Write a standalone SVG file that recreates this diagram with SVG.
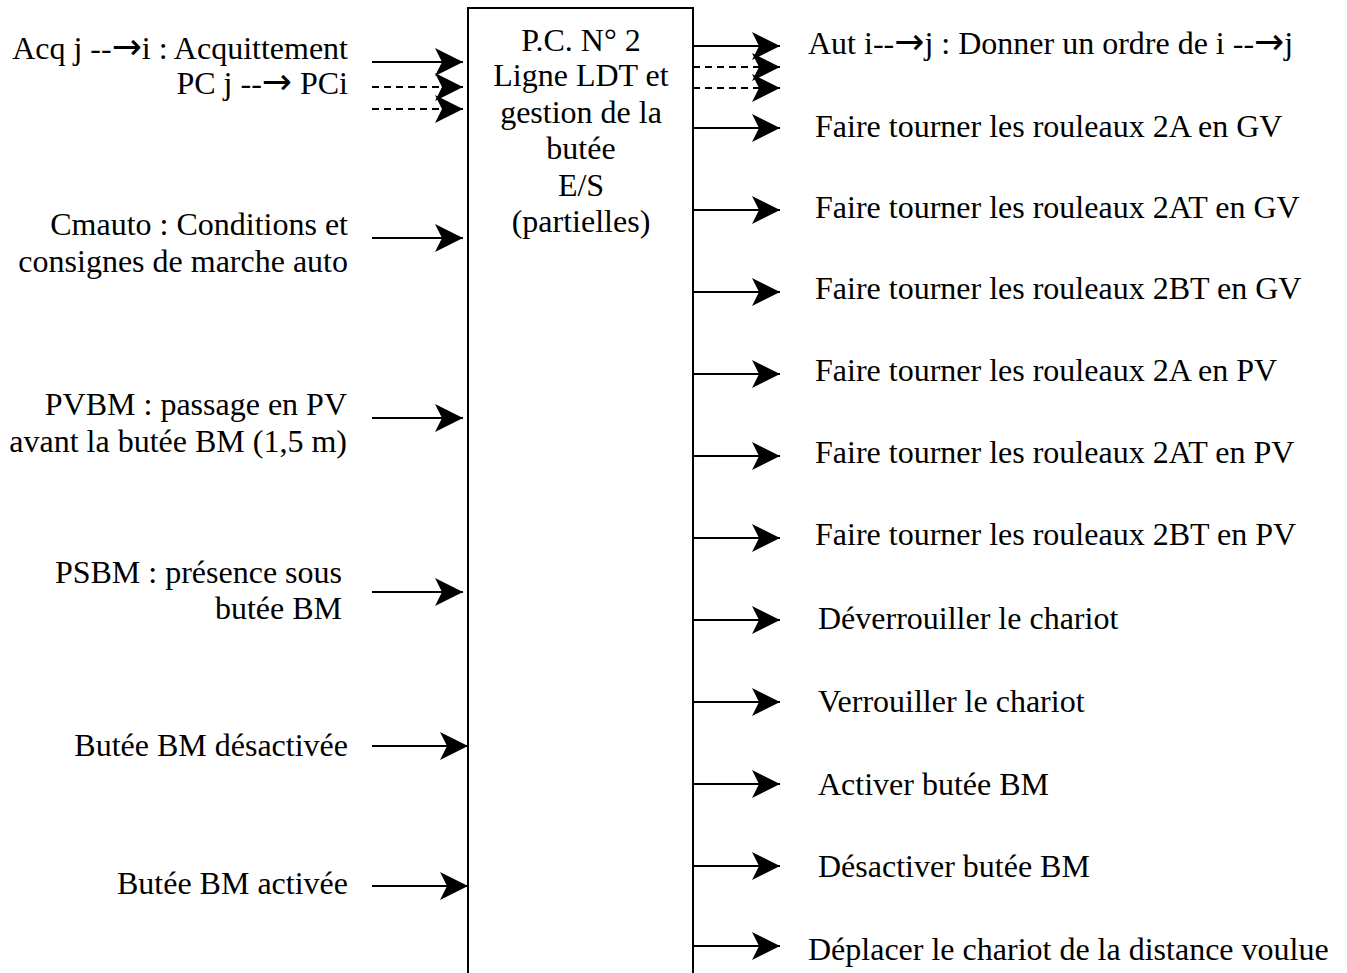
<svg xmlns="http://www.w3.org/2000/svg" width="1347" height="973" viewBox="0 0 1347 973">
  <style>
    text { font-family: "Liberation Serif", "Times New Roman", serif; font-size: 32px; fill: #000; }
    .in { text-anchor: end; }
    .mid { text-anchor: middle; }
    .sym { font-family: "DejaVu Sans", sans-serif; font-size: 36px; }
    .wire { stroke: #000; stroke-width: 2; fill: none; marker-end: url(#head); }
    .dash { stroke-dasharray: 7 5; }
    .box { stroke: #000; stroke-width: 2; fill: #fff; }
  </style>
  <defs>
    <marker id="head" markerUnits="userSpaceOnUse" markerWidth="32" markerHeight="32" viewBox="-30 -16 32 32" refX="0" refY="0" orient="auto" overflow="visible">
      <path d="M0,0 L-28,-14 L-21,0 L-28,14 Z" fill="#000"/>
    </marker>
  </defs>
  <rect width="1347" height="973" fill="#fff"/>

  <!-- central block: P.C. N° 2 -->
  <g id="pc2">
    <path class="box" d="M468,980 L468,8 L693,8 L693,980"/>
    <text class="mid" x="581" y="51">P.C. N° 2</text>
    <text class="mid" x="581" y="86">Ligne LDT et</text>
    <text class="mid" x="581" y="123">gestion de la</text>
    <text class="mid" x="581" y="159">butée</text>
    <text class="mid" x="581" y="196">E/S</text>
    <text class="mid" x="581" y="232">(partielles)</text>
  </g>

  <!-- input labels -->
  <g id="in-acq">
    <text class="in" x="348" y="59">Acq j --<tspan class="sym">→</tspan>i : Acquittement</text>
    <text class="in" x="348" y="94">PC j --<tspan class="sym">→</tspan> PCi</text>
  </g>
  <g id="in-cmauto">
    <text class="in" x="348" y="235">Cmauto : Conditions et</text>
    <text class="in" x="348" y="272">consignes de marche auto</text>
  </g>
  <g id="in-pvbm">
    <text class="in" x="347" y="415">PVBM : passage en PV</text>
    <text class="in" x="347" y="452">avant la butée BM (1,5 m)</text>
  </g>
  <g id="in-psbm">
    <text class="in" x="342" y="583">PSBM : présence sous</text>
    <text class="in" x="342" y="619">butée BM</text>
  </g>
  <g id="in-bm-off">
    <text class="in" x="348" y="756">Butée BM désactivée</text>
  </g>
  <g id="in-bm-on">
    <text class="in" x="348" y="894">Butée BM activée</text>
  </g>

  <!-- output labels -->
  <g id="out-aut"><text x="808" y="54">Aut i--<tspan class="sym">→</tspan>j : Donner un ordre de i --<tspan class="sym">→</tspan>j</text></g>
  <g id="out-2a-gv"><text x="815" y="137">Faire tourner les rouleaux 2A en GV</text></g>
  <g id="out-2at-gv"><text x="815" y="218">Faire tourner les rouleaux 2AT en GV</text></g>
  <g id="out-2bt-gv"><text x="815" y="299">Faire tourner les rouleaux 2BT en GV</text></g>
  <g id="out-2a-pv"><text x="815" y="381">Faire tourner les rouleaux 2A en PV</text></g>
  <g id="out-2at-pv"><text x="815" y="463">Faire tourner les rouleaux 2AT en PV</text></g>
  <g id="out-2bt-pv"><text x="815" y="545">Faire tourner les rouleaux 2BT en PV</text></g>
  <g id="out-unlock"><text x="818" y="629">Déverrouiller le chariot</text></g>
  <g id="out-lock"><text x="818" y="712">Verrouiller le chariot</text></g>
  <g id="out-bm-on"><text x="818" y="795">Activer butée BM</text></g>
  <g id="out-bm-off"><text x="818" y="877">Désactiver butée BM</text></g>
  <g id="out-move"><text x="808" y="960">Déplacer le chariot de la distance voulue</text></g>

  <!-- connectors -->
  <g id="connectors">
    <line class="wire" x1="372" y1="62" x2="463" y2="62"/>
    <line class="wire dash" x1="372" y1="87" x2="463" y2="87"/>
    <line class="wire dash" x1="372" y1="109" x2="463" y2="109"/>
    <line class="wire" x1="372" y1="238" x2="463" y2="238"/>
    <line class="wire" x1="372" y1="418" x2="463" y2="418"/>
    <line class="wire" x1="372" y1="592" x2="463" y2="592"/>
    <line class="wire" x1="372" y1="746" x2="468" y2="746"/>
    <line class="wire" x1="372" y1="886" x2="468" y2="886"/>

    <line class="wire" x1="693" y1="46" x2="780" y2="46"/>
    <line class="wire dash" x1="693" y1="67" x2="780" y2="67"/>
    <line class="wire dash" x1="693" y1="88" x2="780" y2="88"/>
    <line class="wire" x1="693" y1="128" x2="780" y2="128"/>
    <line class="wire" x1="693" y1="210" x2="780" y2="210"/>
    <line class="wire" x1="693" y1="292" x2="780" y2="292"/>
    <line class="wire" x1="693" y1="374" x2="780" y2="374"/>
    <line class="wire" x1="693" y1="456" x2="780" y2="456"/>
    <line class="wire" x1="693" y1="538" x2="780" y2="538"/>
    <line class="wire" x1="693" y1="620" x2="780" y2="620"/>
    <line class="wire" x1="693" y1="702" x2="780" y2="702"/>
    <line class="wire" x1="693" y1="784" x2="780" y2="784"/>
    <line class="wire" x1="693" y1="866" x2="780" y2="866"/>
    <line class="wire" x1="693" y1="946" x2="780" y2="946"/>
  </g>
</svg>
